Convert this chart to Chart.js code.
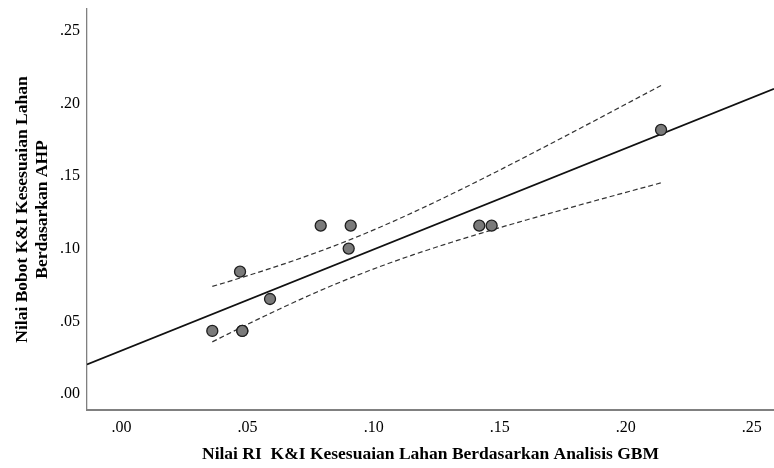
<!DOCTYPE html>
<html><head><meta charset="utf-8">
<script src="https://cdn.jsdelivr.net/npm/chart.js@4"></script>
<style>html,body{margin:0;padding:0;background:#fff;overflow:hidden}</style>
</head><body>
<canvas id="c" width="774" height="468"></canvas>
<script>
const xValues = [0.0360, 0.0470, 0.0479, 0.0479, 0.0589, 0.0790, 0.0901, 0.0909, 0.1419, 0.1468, 0.2140];
const yValues = [0.0434, 0.0842, 0.0434, 0.0434, 0.0654, 0.1159, 0.1001, 0.1159, 0.1159, 0.1159, 0.1818];
// Tick labels
const xTicks = [0.00, 0.05, 0.10, 0.15, 0.20, 0.25];
const yTicks = [0.00, 0.05, 0.10, 0.15, 0.20, 0.25];
// Axis ranges
const xRange = [-0.0137, 0.2588];
const yRange = [-0.0110, 0.2650];
const xAxisTitle = 'Nilai RI  K&I Kesesuaian Lahan Berdasarkan Analisis GBM';
const yAxisTitle = ['Nilai Bobot K&I Kesesuaian Lahan', 'Berdasarkan AHP'];
const T_CRIT = 2.262; // t(0.975, df = n-2 = 9)

// Linear regression (OLS) and 95% CI for the mean
const n = xValues.length;
const mx = xValues.reduce((a, b) => a + b, 0) / n;
const my = yValues.reduce((a, b) => a + b, 0) / n;
let sxx = 0, sxy = 0;
for (let i = 0; i < n; i++) { sxx += (xValues[i] - mx) ** 2; sxy += (xValues[i] - mx) * (yValues[i] - my); }
const slope = sxy / sxx;
const intercept = my - slope * mx;
let sse = 0;
for (let i = 0; i < n; i++) { sse += (yValues[i] - (intercept + slope * xValues[i])) ** 2; }
const s = Math.sqrt(sse / (n - 2));
const fitLine = [xRange[0], xRange[1]].map(x => ({ x, y: intercept + slope * x }));
const xmin = Math.min(...xValues), xmax = Math.max(...xValues);
const upper = [], lower = [];
const steps = 60;
for (let k = 0; k <= steps; k++) {
  const x = xmin + (xmax - xmin) * k / steps;
  const yh = intercept + slope * x;
  const hw = T_CRIT * s * Math.sqrt(1 / n + (x - mx) ** 2 / sxx);
  upper.push({ x, y: yh + hw });
  lower.push({ x, y: yh - hw });
}
const points = xValues.map((x, i) => ({ x, y: yValues[i] }));

const fmt = v => Number(v).toFixed(2).replace(/^0/, '');
const tickFont = { family: "'Liberation Serif', 'Times New Roman', serif", size: 16 };
const titleFont = { family: "'Liberation Serif', 'Times New Roman', serif", size: 17.5, weight: 'bold', lineHeight: 1.15 };

new Chart(document.getElementById('c'), {
  type: 'scatter',
  data: {
    datasets: [
      { data: points, order: 0, pointRadius: 5.5, pointBackgroundColor: '#7a7a7a', pointBorderColor: '#1e1e1e', pointBorderWidth: 1.3, showLine: false },
      { type: 'line', data: fitLine, order: 1, borderColor: '#111', borderWidth: 1.8, pointRadius: 0, fill: false },
      { type: 'line', data: upper, order: 2, borderColor: '#333', borderWidth: 1.2, borderDash: [5, 3], pointRadius: 0, fill: false },
      { type: 'line', data: lower, order: 2, borderColor: '#333', borderWidth: 1.2, borderDash: [5, 3], pointRadius: 0, fill: false }
    ]
  },
  options: {
    responsive: false, animation: false, devicePixelRatio: 1,
    layout: { autoPadding: false, padding: { top: 9, right: 0, left: 0, bottom: 0 } },
    plugins: { legend: { display: false }, tooltip: { enabled: false } },
    scales: {
      x: {
        type: 'linear', min: xRange[0], max: xRange[1],
        afterBuildTicks: sc => { sc.ticks = xTicks.map(v => ({ value: v })); },
        afterFit: sc => { sc.height = 58; sc.paddingLeft = 0; sc.paddingRight = 0; },
        grid: { display: false, drawTicks: false },
        border: { display: true, color: '#808080', width: 2 },
        ticks: { padding: 8, font: tickFont, color: '#000', callback: fmt, maxRotation: 0, autoSkip: false },
        title: { display: true, text: xAxisTitle, font: titleFont, color: '#000', padding: { top: 0, bottom: 3 } }
      },
      y: {
        type: 'linear', min: yRange[0], max: yRange[1],
        afterBuildTicks: sc => { sc.ticks = yTicks.map(v => ({ value: v })); },
        afterFit: sc => { sc.width = 87; sc.paddingTop = 0; sc.paddingBottom = 0; },
        grid: { display: false, drawTicks: false },
        border: { display: true, color: '#808080', width: 1.3 },
        ticks: { padding: 7, font: tickFont, color: '#000', callback: fmt, autoSkip: false },
        title: { display: true, text: yAxisTitle, font: titleFont, color: '#000', padding: { top: 12, bottom: 0 } }
      }
    }
  }
});
</script>
</body></html>
